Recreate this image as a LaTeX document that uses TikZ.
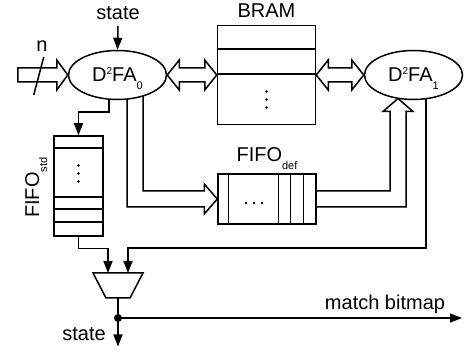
\documentclass[tikz,border=0pt]{standalone}
\usepackage{fontspec}
\setmainfont{Liberation Sans}
\usetikzlibrary{shapes.geometric, arrows.meta, positioning, calc, backgrounds}
\newcommand{\lsub}[1]{\raisebox{-0.4em}{\fontsize{11}{11}\selectfont #1}}
\newcommand{\dfa}[1]{D\raisebox{0.35em}{\fontsize{10}{10}\selectfont 2}FA\smash{\lsub{#1}}}
\tikzset{
    wire/.style={line width=1.5pt},
    arr/.style={wire, -{Triangle[length=12pt,width=9pt]}},
    bus/.style={line width=1.5pt, fill=white, line join=miter},
    fsm/.style={ellipse, draw, line width=1.5pt, fill=white, minimum width=98pt, minimum height=49pt, inner sep=0pt},
    mem/.style={rectangle, draw, line width=1.5pt, fill=white, inner sep=0pt},
    muxbox/.style={trapezium, draw, line width=1.5pt, fill=white, trapezium angle=62.5, inner xsep=12pt, inner ysep=12.5pt, shape border rotate=180},
    lbl/.style={inner sep=0pt},
}
\begin{document}
\begin{tikzpicture}[x=1pt, y=-1pt, font=\fontsize{20}{24}\selectfont]
\useasboundingbox (0,0) rectangle (464,352);

% Automata and memories
\node[fsm] (d2fa0) at (117.5,75) {\dfa{0}};
\node[fsm] (d2fa1) at (413.5,75) {\dfa{1}};
\node[mem, minimum width=98pt, minimum height=99pt] (bram) at (266.5,75) {};
\node[mem, minimum width=49pt, minimum height=100pt] (fifostd) at (78.5,186) {};
\node[mem, minimum width=98pt, minimum height=50pt] (fifodef) at (267,199) {};
\node[muxbox] (mux) at (118,285.5) {};

% Rows and cells
\foreach \dy in {24.5,49.5}
    \draw[wire] ($(bram.north west)+(0,\dy)$) -- ($(bram.north east)+(0,\dy)$);
\foreach \dy in {13,62,74,87}
    \draw[wire] ($(fifostd.north west)+(0,\dy)$) -- ($(fifostd.north east)+(0,\dy)$);
\foreach \dx in {11,61,73,86}
    \draw[wire] ($(fifodef.north west)+(\dx,0)$) -- ($(fifodef.south west)+(\dx,0)$);
\foreach \d in {-8,0,8} {
    \fill ($(bram.center)+(0,24.5+\d)$) circle (1.4pt);
    \fill ($(fifostd.center)+(0,-12.5+\d)$) circle (1.4pt);
    \fill ($(fifodef.center)+(-13+\d,4)$) circle (1.4pt);
}

% Labels
\node[lbl, inner ysep=6pt] (statein) at (118,13) {state};
\node[lbl] (nlbl) at (42,46) {n};
\node[lbl, above=7pt of bram] (bramlbl) {BRAM};
\node[lbl, above=3pt of fifodef] (fifodeflbl) {FIFO\lsub{def}};
\node[lbl, rotate=90, anchor=base west] (fifostdlbl) at (39,218) {FIFO\lsub{std}};
\node[lbl] (stateoutlbl) at (84,334) {state};
\node[lbl] (bitmaplbl) at (385,304) {match bitmap};

% Buses
\coordinate (d2fa1in) at ($(d2fa1.center)+(-15.5,23.5)$);
\begin{scope}[on background layer]
\draw[bus] (d2fa0.west) -- ++(-11,-15) -- ++(0,8) -- ++(-39,0) -- ++(0,14) -- ++(39,0) -- ++(0,8) -- cycle;
\draw[bus] (d2fa0.east) -- ++(12,-15) -- ++(0,8) -- ($(bram.west)+(-12,-7)$) -- ++(0,-8) -- (bram.west)
    -- ++(-12,15) -- ++(0,-8) -- ($(d2fa0.east)+(12,7)$) -- ++(0,8) -- cycle;
\draw[bus] (bram.east) -- ++(12,-15) -- ++(0,8) -- ($(d2fa1.west)+(-12,-7)$) -- ++(0,-8) -- (d2fa1.west)
    -- ++(-12,15) -- ++(0,-8) -- ($(bram.east)+(12,7)$) -- ++(0,8) -- cycle;
\draw[bus] ($(d2fa0.center)+(25.5,0)$) |- ($(fifodef.west)+(-13,-8)$) -- ++(0,-7) -- (fifodef.west)
    -- ++(-13,15) -- ++(0,-7) -| ($(d2fa0.center)+(9.5,0)$);
\draw[bus] ($(fifodef.east)+(0,-8)$) -| ($(d2fa1in)+(-8,13)$) -- ++(-7,0) -- (d2fa1in)
    -- ++(15,13) -- ++(-7,0) |- ($(fifodef.east)+(0,8)$);

% Single wires
\draw[arr] ($(d2fa0.center)+(-8.5,0)$) -- ++(0,37) -| (fifostd.north);
\draw[arr] ($(d2fa1.center)+(12.5,0)$) |- ($(mux.center)+(10,-37.5)$) -- ($(mux.center)+(10,-12.5)$);
\end{scope}
\draw[wire] ($(d2fa0.west)+(-34,20)$) -- ++(10,-38);
\draw[arr] (statein.south) -- (d2fa0.north);
\draw[arr] (fifostd.south) -- ++(0,12) -| ($(mux.center)+(-10,-12.5)$);

% Output
\coordinate (split) at ($(mux.center)+(0,32.5)$);
\coordinate (stateout) at ($(mux.center)+(0,61)$);
\coordinate (bitmap) at ($(split)+(344,0)$);
\draw[arr] ($(mux.center)+(0,12.5)$) -- (stateout);
\draw[arr] (split) -- (bitmap);
\fill (split) circle (4pt);

\end{tikzpicture}
\end{document}
